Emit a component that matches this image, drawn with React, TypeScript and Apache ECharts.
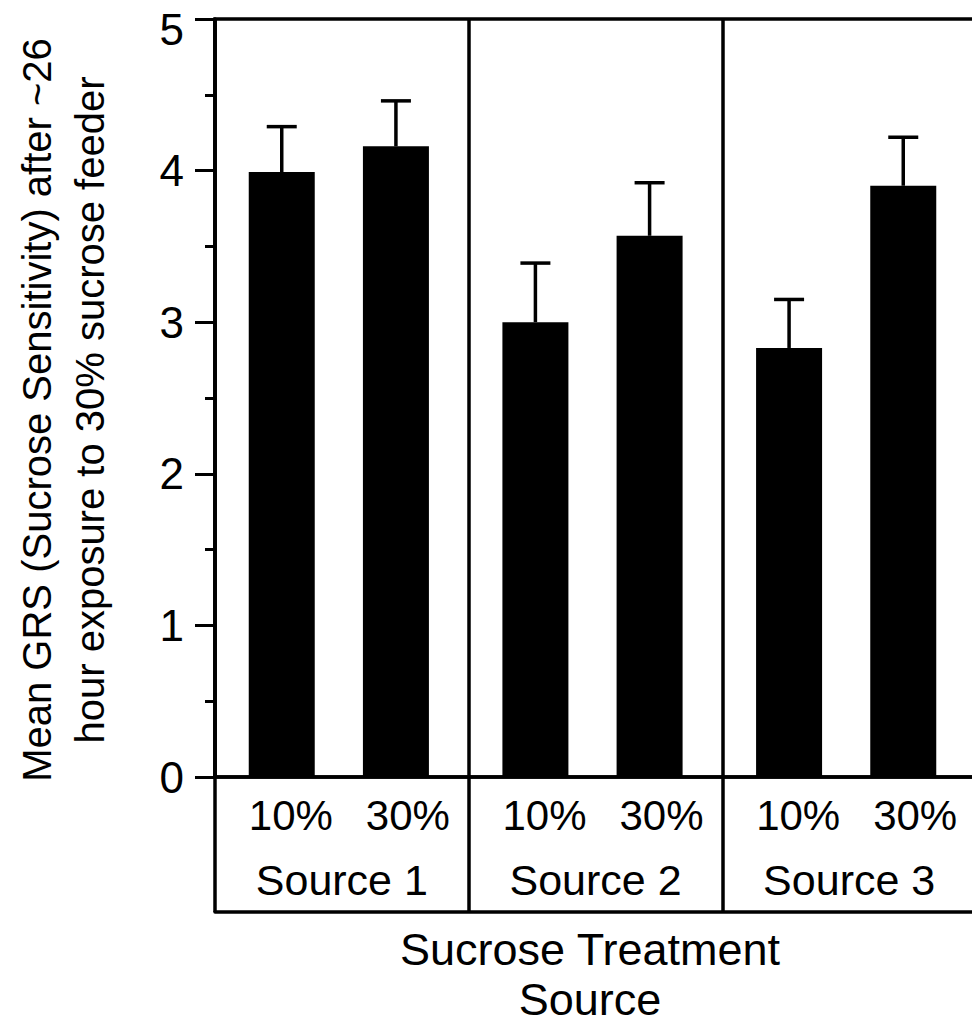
import React, { useEffect, useRef } from "react";
import * as echarts from "echarts";

// Sucrose sensitivity (GRS) by feeder source and sucrose treatment
const CATEGORIES = ["Source 1", "Source 2", "Source 3"];
const TREATMENTS = ["10%", "30%"];
const MEAN_10 = [3.99, 3.0, 2.83];
const MEAN_30 = [4.16, 3.57, 3.9];
const SE_10 = [0.3, 0.39, 0.32];
const SE_30 = [0.3, 0.35, 0.32];
const Y_MIN = 0;
const Y_MAX = 5;
const Y_INTERVAL = 1;

const Y_TITLE = [
  "Mean GRS (Sucrose Sensitivity) after ~26",
  "hour exposure to 30% sucrose feeder",
];
const X_TITLE = ["Sucrose Treatment", "Source"];

const FONT = "'Liberation Sans', Arial, Helvetica, sans-serif";
const BAR_WIDTH = 66;
const BAR_GAP = 0.73;
const LINE_W = 3.5;

export default function App() {
  const ref = useRef<HTMLDivElement>(null);

  useEffect(() => {
    if (!ref.current) return;
    const chart = echarts.init(ref.current, null, { renderer: "svg" });

    const pairShift = (BAR_WIDTH + BAR_WIDTH * BAR_GAP) / 2;

    const errorSeries = (means: number[], ses: number[], shift: number) => ({
      type: "custom",
      xAxisIndex: 2,
      yAxisIndex: 1,
      z: 5,
      clip: false,
      data: means.map((m, i) => [i, m, m + ses[i]]),
      renderItem: (_params: any, api: any) => {
        const idx = api.value(0);
        const base = api.coord([idx, api.value(1)]);
        const top = api.coord([idx, api.value(2)]);
        const x = top[0] + shift;
        const style = { stroke: "#000", lineWidth: LINE_W };
        return {
          type: "group",
          children: [
            { type: "line", shape: { x1: x, y1: base[1], x2: x, y2: top[1] }, style },
            { type: "line", shape: { x1: x - 15, y1: top[1], x2: x + 15, y2: top[1] }, style },
          ],
        };
      },
    });

    chart.setOption({
      animation: false,
      backgroundColor: "#fff",
      textStyle: { fontFamily: FONT, color: "#000" },
      grid: [
        {
          left: 215,
          right: 4,
          top: 19,
          bottom: 246,
          show: true,
          borderColor: "#000",
          borderWidth: LINE_W,
          backgroundColor: "transparent",
        },
        { left: 212, right: 7, top: 19, bottom: 246 },
      ],
      xAxis: [
        {
          type: "category",
          gridIndex: 0,
          data: CATEGORIES,
          axisLine: { show: true, lineStyle: { color: "#000", width: LINE_W } },
          axisTick: {
            show: true,
            inside: false,
            alignWithLabel: false,
            length: 135,
            lineStyle: { color: "#000", width: LINE_W },
          },
          splitLine: { show: true, lineStyle: { color: "#000", width: LINE_W } },
          axisLabel: {
            interval: 0,
            margin: 13,
            color: "#000",
            formatter: (name: string) =>
              `{g| }{a|${TREATMENTS[0]}}{a|${TREATMENTS[1]}}\n{s|${name}}`,
            rich: {
              g: { width: 15, fontSize: 42, lineHeight: 50, fontFamily: FONT },
              a: {
                width: 117,
                align: "center",
                fontSize: 42,
                lineHeight: 50,
                fontFamily: FONT,
                color: "#000",
              },
              s: {
                align: "center",
                fontSize: 43,
                lineHeight: 80,
                fontFamily: FONT,
                color: "#000",
              },
            },
          },
        },
        {
          type: "category",
          gridIndex: 0,
          position: "bottom",
          offset: 135,
          data: CATEGORIES,
          axisLine: { show: true, lineStyle: { color: "#000", width: LINE_W } },
          axisTick: { show: false },
          axisLabel: { show: false },
          splitLine: { show: false },
        },
        {
          type: "category",
          gridIndex: 1,
          data: CATEGORIES,
          show: false,
        },
      ],
      yAxis: [
        {
          type: "value",
          gridIndex: 0,
          min: Y_MIN,
          max: Y_MAX,
          interval: Y_INTERVAL,
          axisLine: { show: true, lineStyle: { color: "#000", width: LINE_W } },
          axisTick: {
            show: true,
            inside: false,
            length: 20,
            lineStyle: { color: "#000", width: 3 },
          },
          minorTick: {
            show: true,
            splitNumber: 2,
            length: 10,
            lineStyle: { color: "#000", width: 3 },
          },
          splitLine: { show: false },
          axisLabel: {
            margin: 31,
            fontSize: 44,
            color: "#000",
            fontFamily: FONT,
            formatter: (v: number) => (v === Y_MAX ? `{t|${v}}` : `${v}`),
            rich: {
              t: { fontSize: 44, fontFamily: FONT, color: "#000", padding: [20, 0, 0, 0] },
            },
          },
        },
        {
          type: "value",
          gridIndex: 1,
          min: Y_MIN,
          max: Y_MAX,
          interval: Y_INTERVAL,
          show: false,
        },
      ],
      series: [
        {
          name: TREATMENTS[0],
          type: "bar",
          xAxisIndex: 2,
          yAxisIndex: 1,
          data: MEAN_10,
          barWidth: BAR_WIDTH,
          barGap: `${BAR_GAP * 100}%`,
          itemStyle: { color: "#000" },
        },
        {
          name: TREATMENTS[1],
          type: "bar",
          xAxisIndex: 2,
          yAxisIndex: 1,
          data: MEAN_30,
          barWidth: BAR_WIDTH,
          barGap: `${BAR_GAP * 100}%`,
          itemStyle: { color: "#000" },
        },
        errorSeries(MEAN_10, SE_10, -pairShift),
        errorSeries(MEAN_30, SE_30, pairShift),
      ],
      graphic: [
        {
          type: "text",
          x: 63,
          y: 410,
          rotation: Math.PI / 2,
          style: {
            text: Y_TITLE.join("\n"),
            fontSize: 40,
            fontFamily: FONT,
            fill: "#000",
            align: "center",
            verticalAlign: "middle",
            lineHeight: 53,
          },
        },
        {
          type: "text",
          x: 590,
          y: 974,
          style: {
            text: X_TITLE.join("\n"),
            fontSize: 45,
            fontFamily: FONT,
            fill: "#000",
            align: "center",
            verticalAlign: "middle",
            lineHeight: 50,
          },
        },
      ],
    });

    return () => chart.dispose();
  }, []);

  return (
    <div
      style={{
        position: "fixed",
        left: 0,
        top: 0,
        width: 972,
        height: 1023,
        overflow: "hidden",
        background: "#fff",
      }}
    >
      <div ref={ref} style={{ width: 980, height: 1023 }} />
    </div>
  );
}
